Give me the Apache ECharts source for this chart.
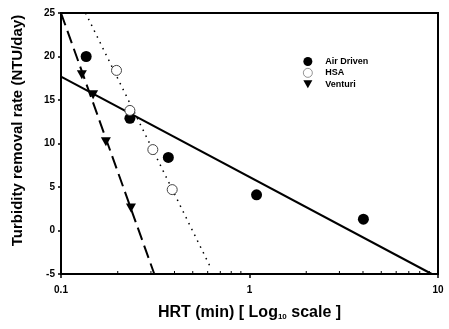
<!DOCTYPE html>
<html><head><meta charset="utf-8">
<script src="https://cdn.jsdelivr.net/npm/echarts@6/dist/echarts.min.js"></script>
<style>html,body{margin:0;padding:0;background:#fff}#c{width:449px;height:329px}</style>
</head><body><div id="c"></div>
<script>
// Data
const airDriven = [[0.136, 20.0], [0.232, 12.9], [0.371, 8.4], [1.09, 4.1], [4.02, 1.3]];
const hsa = [[0.197, 18.4], [0.232, 13.8], [0.307, 9.3], [0.389, 4.7]];
const venturi = [[0.129, 17.9], [0.148, 15.6], [0.173, 10.2], [0.235, 2.6]];
const airFit = [[0.1, 17.7], [9.27, -5]];
const hsaFit = [[0.135, 25], [0.62, -4.2]];
const venturiFit = [[0.1, 25], [0.3126, -5]];
const minorTicks = [0.2, 0.3, 0.4, 0.5, 0.6, 0.7, 0.8, 0.9, 2, 3, 4, 5, 6, 7, 8, 9];
const legendNames = ['Air Driven', 'HSA', 'Venturi'];

const font = 'Liberation Sans, Arial, sans-serif';
const downTri = 'path://M0,0L10,0L5,9Z';
const chart = echarts.init(document.getElementById('c'), null, {renderer: 'canvas'});
chart.setOption({
  animation: false,
  backgroundColor: '#fff',
  grid: {left: 61, top: 13, right: 11, bottom: 55, show: true, borderColor: '#000', borderWidth: 2, backgroundColor: 'transparent'},
  legend: {
    orient: 'vertical', left: 298, top: 52, itemGap: 2, itemWidth: 9, itemHeight: 9,
    data: [
      {name: legendNames[0], icon: 'circle'},
      {name: legendNames[1], icon: 'circle', itemStyle: {borderWidth: 0.7, borderColor: '#666'}},
      {name: legendNames[2], icon: downTri}
    ],
    textStyle: {fontFamily: font, fontWeight: 'bold', fontSize: 9, color: '#000', padding: [0, 0, 0, 8]}
  },
  xAxis: {
    type: 'log', logBase: 10, min: 0.1, max: 10,
    name: 'HRT (min) [ Log{sub|10} scale ]', nameLocation: 'middle', nameGap: 31,
    nameTextStyle: {fontFamily: font, fontWeight: 'bold', fontSize: 16, color: '#000',
      rich: {sub: {fontFamily: font, fontWeight: 'bold', fontSize: 8, verticalAlign: 'bottom', padding: [8, 0, 0, 0]}}},
    axisLine: {onZero: false, lineStyle: {color: '#000', width: 2}},
    axisTick: {show: true, length: 4, lineStyle: {color: '#000', width: 1.5}},
    axisLabel: {fontFamily: font, fontWeight: 'bold', fontSize: 10, color: '#000', margin: 11,
      formatter: v => String(v)},
    splitLine: {show: false}
  },
  yAxis: {
    type: 'value', min: -5, max: 25, interval: 5,
    name: 'Turbidity removal rate (NTU/day)', nameLocation: 'middle', nameGap: 36,
    nameTextStyle: {fontFamily: font, fontWeight: 'bold', fontSize: 15, color: '#000', padding: [0, 0, 0, 26]},
    axisLine: {onZero: false, lineStyle: {color: '#000', width: 2}},
    axisTick: {show: true, length: 3, lineStyle: {color: '#000', width: 1.5}},
    axisLabel: {fontFamily: font, fontWeight: 'bold', fontSize: 10, color: '#000', margin: 6,
      formatter: v => String(v)},
    splitLine: {show: false}
  },
  series: [
    {type: 'custom', silent: true, data: minorTicks.map(v => [v, -5]),
      renderItem: (params, api) => {
        const p = api.coord([api.value(0), api.value(1)]);
        return {type: 'line', shape: {x1: p[0], y1: p[1], x2: p[0], y2: p[1] - 3}, style: {stroke: '#000', lineWidth: 1}};
      }, z: 1},
    {name: 'airFit', type: 'line', data: airFit, symbol: 'none', lineStyle: {color: '#000', width: 2}, z: 2},
    {name: 'hsaFit', type: 'line', data: hsaFit, symbol: 'none', lineStyle: {color: '#000', width: 1.5, type: [1.5, 5]}, z: 2},
    {name: 'venturiFit', type: 'line', data: venturiFit, symbol: 'none', lineStyle: {color: '#000', width: 2, type: [13, 6]}, z: 2},
    {name: legendNames[0], type: 'scatter', data: airDriven, symbol: 'circle', symbolSize: 11, itemStyle: {color: '#000', opacity: 1}, z: 3},
    {name: legendNames[1], type: 'scatter', data: hsa, symbol: 'circle', symbolSize: 10, itemStyle: {color: '#fff', borderColor: '#444', borderWidth: 1, opacity: 1}, z: 3},
    {name: legendNames[2], type: 'scatter', data: venturi, symbol: downTri, symbolSize: [10, 9], itemStyle: {color: '#000', opacity: 1}, z: 3}
  ]
});
</script></body></html>
